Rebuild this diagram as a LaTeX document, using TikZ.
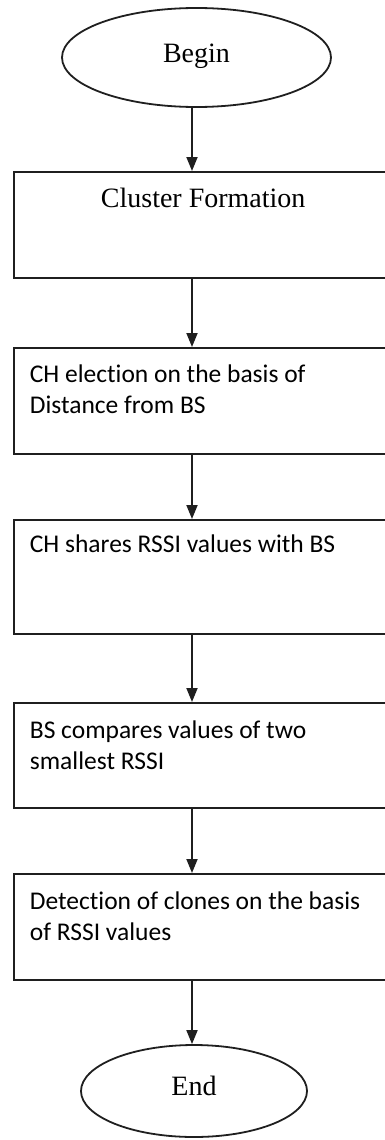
\documentclass[tikz,border=0pt]{standalone}
\usepackage{fontspec}
\setmainfont{Liberation Serif}
\newfontfamily\calibri[Ligatures=NoCommon]{Carlito}
\usetikzlibrary{shapes.geometric,arrows.meta}
\begin{document}
\begin{tikzpicture}[x=1pt,y=-1pt,
  every path/.style={line width=1.8pt},
  terminal/.style={draw=black!88, ellipse, inner sep=0pt, line width=1.8pt,
    font=\fontsize{28}{33}\selectfont},
  stepbox/.style={draw=black!88, rectangle, inner sep=0pt, line width=1.8pt,
    minimum width=387pt, anchor=north west},
  label serif/.style={anchor=base west, inner sep=0pt,
    font=\fontsize{28}{33}\selectfont},
  label sans/.style={anchor=base west, inner sep=0pt, align=left,
    font=\calibri\fontsize{25.5}{31}\selectfont},
  arr/.style={draw=black!88, line width=1.8pt,
    -{Triangle[width=11pt,length=14pt]}}]
  \useasboundingbox (0,0) rectangle (385,1140);
  \coordinate (axis) at (192,0);

  % start and end terminals
  \node[terminal, minimum width=269pt, minimum height=99pt] (begin) at (196.5,57.5) {\raisebox{9pt}{Begin}};
  \node[terminal, minimum width=226pt, minimum height=92pt] (end) at (194,1091) {\raisebox{10pt}{End}};

  % process boxes (open on the right, running past the page edge)
  \node[stepbox, minimum height=106pt] (b1) at (13,171) {};
  \node[stepbox, minimum height=106pt] (b2) at (13,347) {};
  \node[stepbox, minimum height=114pt] (b3) at (13,519) {};
  \node[stepbox, minimum height=105pt] (b4) at (13,702) {};
  \node[stepbox, minimum height=106pt] (b5) at (13,873) {};

  % box texts (base anchor sits on the last line)
  \node[label serif] (t1) at (100,207) {Cluster Formation};
  \node[label sans] (t2) at (29,413) {CH election on the basis of\\Distance from BS};
  \node[label sans] (t3) at (29,552) {CH shares RSSI values with BS};
  \node[label sans] (t4) at (29,769) {BS compares values of two\\smallest RSSI};
  \node[label sans] (t5) at (29,940) {Detection of clones on the basis\\of RSSI values};

  % flow arrows
  \draw[arr] (begin.south -| axis) -- (b1.north -| axis);
  \draw[arr] (b1.south -| axis) -- (b2.north -| axis);
  \draw[arr] (b2.south -| axis) -- (b3.north -| axis);
  \draw[arr] (b3.south -| axis) -- (b4.north -| axis);
  \draw[arr] (b4.south -| axis) -- (b5.north -| axis);
  \draw[arr] (b5.south -| axis) -- (end.north -| axis);
\end{tikzpicture}
\end{document}
